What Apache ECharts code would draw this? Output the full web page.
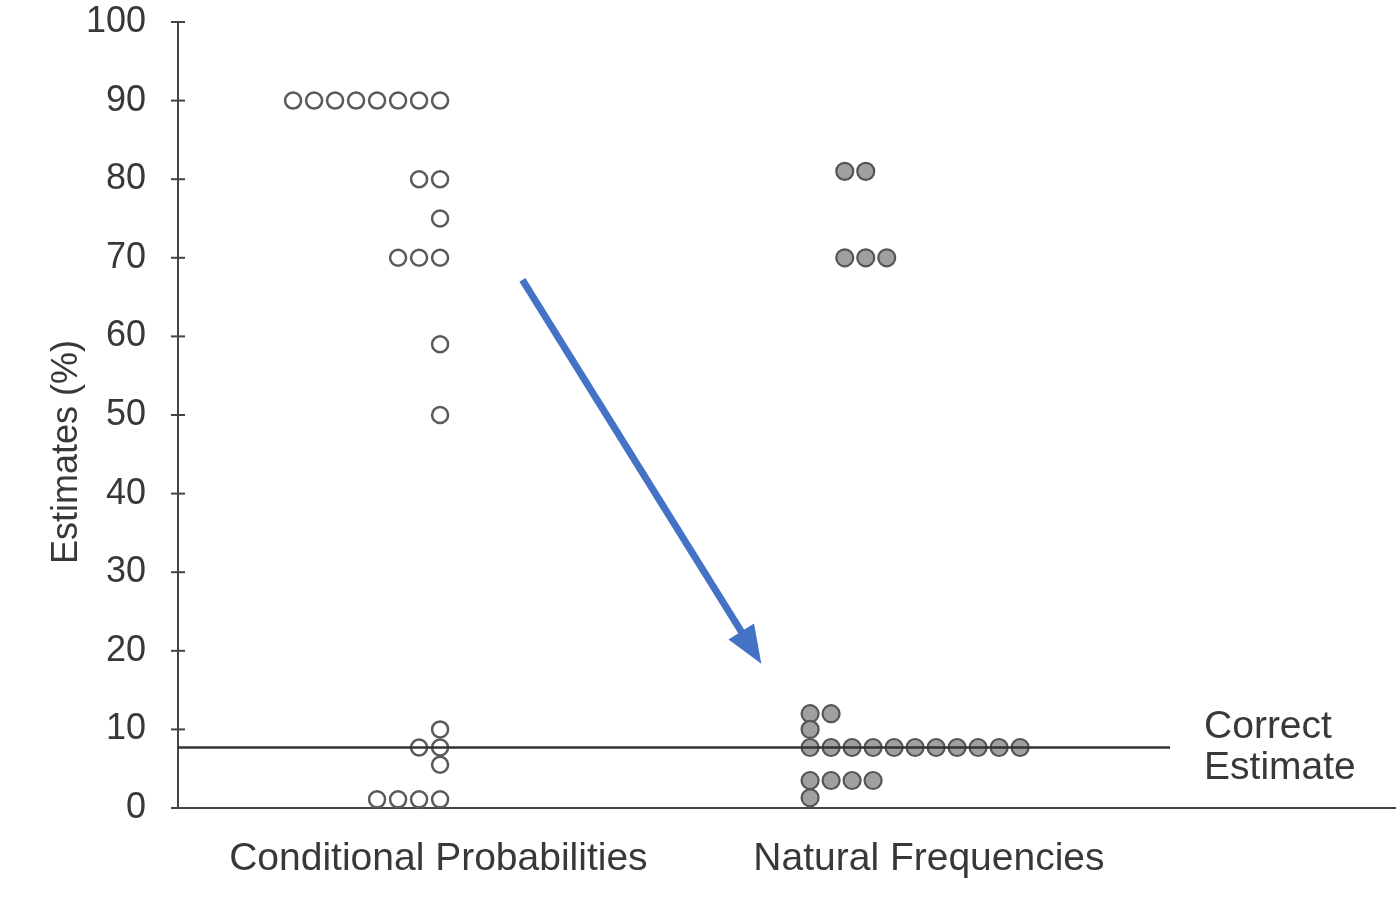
<!DOCTYPE html>
<html>
<head>
<meta charset="utf-8">
<script src="https://cdn.jsdelivr.net/npm/echarts@6/dist/echarts.min.js"></script>
<style>
html,body{margin:0;padding:0;background:#fff;}
#chart{width:1396px;height:918px;}
</style>
</head>
<body>
<div id="chart"></div>
<script>
// ---- data ----
const categories = ['Conditional Probabilities', 'Natural Frequencies'];
const yTickLabels = [0, 10, 20, 30, 40, 50, 60, 70, 80, 90, 100];
const condValues = [90, 80, 75, 70, 59, 50, 10, 7.7, 5.5, 1.1];
const condCounts = [8, 2, 1, 3, 1, 1, 1, 2, 1, 4];
const natValues = [81, 70, 12, 10, 7.7, 3.5, 1.3];
const natCounts = [2, 3, 2, 1, 11, 4, 1];
const correctEstimate = 7.7;
const correctLabel = 'Correct\nEstimate';
const yName = 'Estimates (%)';

// ---- layout (axis units: one unit = one dot column) ----
const X_MAX = 58;
const condAnchor = 12.48;      // right-most column of conditional group
const natAnchor = 30.1;        // left-most column of natural group
const natHighAnchor = 31.75;   // left-most column for high natural estimates
const categoryLabelPos = [12.4, 35.76];
const correctLineEnd = 47.24;
const arrowFrom = [16.4, 67.2];
const arrowTo = [27.3, 20.4];
const TICK_HALF = 7;

const condData = [];
condValues.forEach((v, r) => {
  for (let i = 0; i < condCounts[r]; i++) condData.push([condAnchor - i, v]);
});
const natData = [];
natValues.forEach((v, r) => {
  const start = v > 50 ? natHighAnchor : natAnchor;
  for (let i = 0; i < natCounts[r]; i++) natData.push([start + i, v]);
});

const FONT = "'Liberation Sans', Arial, Helvetica, sans-serif";
const TXT = '#383838';
const AX = '#444';

const chart = echarts.init(document.getElementById('chart'), null, {renderer: 'canvas'});
const option = {
  backgroundColor: '#ffffff',
  animation: false,
  grid: {left: 178, right: 0, top: 22, bottom: 110, containLabel: false},
  xAxis: {
    type: 'value', min: 0, max: X_MAX,
    axisLine: {show: true, lineStyle: {color: AX, width: 2}},
    axisTick: {show: false},
    splitLine: {show: false},
    axisLabel: {
      customValues: categoryLabelPos,
      formatter: function (v) {
        let best = 0, d = Infinity;
        categoryLabelPos.forEach((p, i) => { if (Math.abs(p - v) < d) { d = Math.abs(p - v); best = i; } });
        return categories[best];
      },
      fontFamily: FONT, fontSize: 39, color: TXT, margin: 32
    }
  },
  yAxis: {
    type: 'value', min: 0, max: 100, interval: 10,
    axisLine: {show: true, lineStyle: {color: AX, width: 2}},
    axisTick: {show: false},
    splitLine: {show: false},
    axisLabel: {
      formatter: v => (yTickLabels.indexOf(v) >= 0 ? String(v) : ''),
      fontFamily: FONT, fontSize: 36, color: TXT, margin: 32
    }
  },
  graphic: [{
    type: 'text', x: 67, y: 452, rotation: Math.PI / 2,
    style: {text: yName, font: '36px ' + FONT, fill: TXT, textAlign: 'center', textVerticalAlign: 'middle'}
  }],
  series: [{
    type: 'custom', name: 'yTicks', data: yTickLabels.map(v => [0, v]), clip: false, z: 2, silent: true,
    renderItem: function (params, api) {
      const p = api.coord([api.value(0), api.value(1)]);
      return {
        type: 'line',
        shape: {x1: p[0] - TICK_HALF, y1: p[1], x2: p[0] + TICK_HALF, y2: p[1]},
        style: {stroke: AX, lineWidth: 2}
      };
    }
  }, {
    type: 'line', name: 'correct', data: [], z: 1,
    markLine: {
      silent: true, symbol: ['none', 'none'],
      lineStyle: {color: '#333', width: 2.5, type: 'solid'},
      label: {show: true, position: 'end', distance: 34, formatter: correctLabel,
        fontFamily: FONT, fontSize: 39, color: TXT, lineHeight: 41, align: 'left'},
      data: [[{coord: [0, correctEstimate]}, {coord: [correctLineEnd, correctEstimate]}]]
    }
  }, {
    type: 'scatter', name: 'Conditional Probabilities', data: condData, z: 3,
    symbol: 'circle', symbolSize: 16,
    itemStyle: {color: '#ffffff', borderColor: '#5a5a5a', borderWidth: 2.5, opacity: 1}
  }, {
    type: 'scatter', name: 'Natural Frequencies', data: natData, z: 3,
    symbol: 'circle', symbolSize: 17,
    itemStyle: {color: '#a0a0a0', borderColor: '#555', borderWidth: 2.2, opacity: 1}
  }, {
    type: 'line', name: 'arrow', data: [], z: 5,
    markLine: {
      silent: true, symbol: ['none', 'triangle'], symbolSize: [30, 38],
      lineStyle: {color: '#4472C4', width: 7, type: 'solid'},
      itemStyle: {color: '#4472C4'},
      label: {show: false},
      data: [[{coord: arrowFrom}, {coord: arrowTo}]]
    }
  }]
};
chart.setOption(option);
</script>
</body>
</html>
